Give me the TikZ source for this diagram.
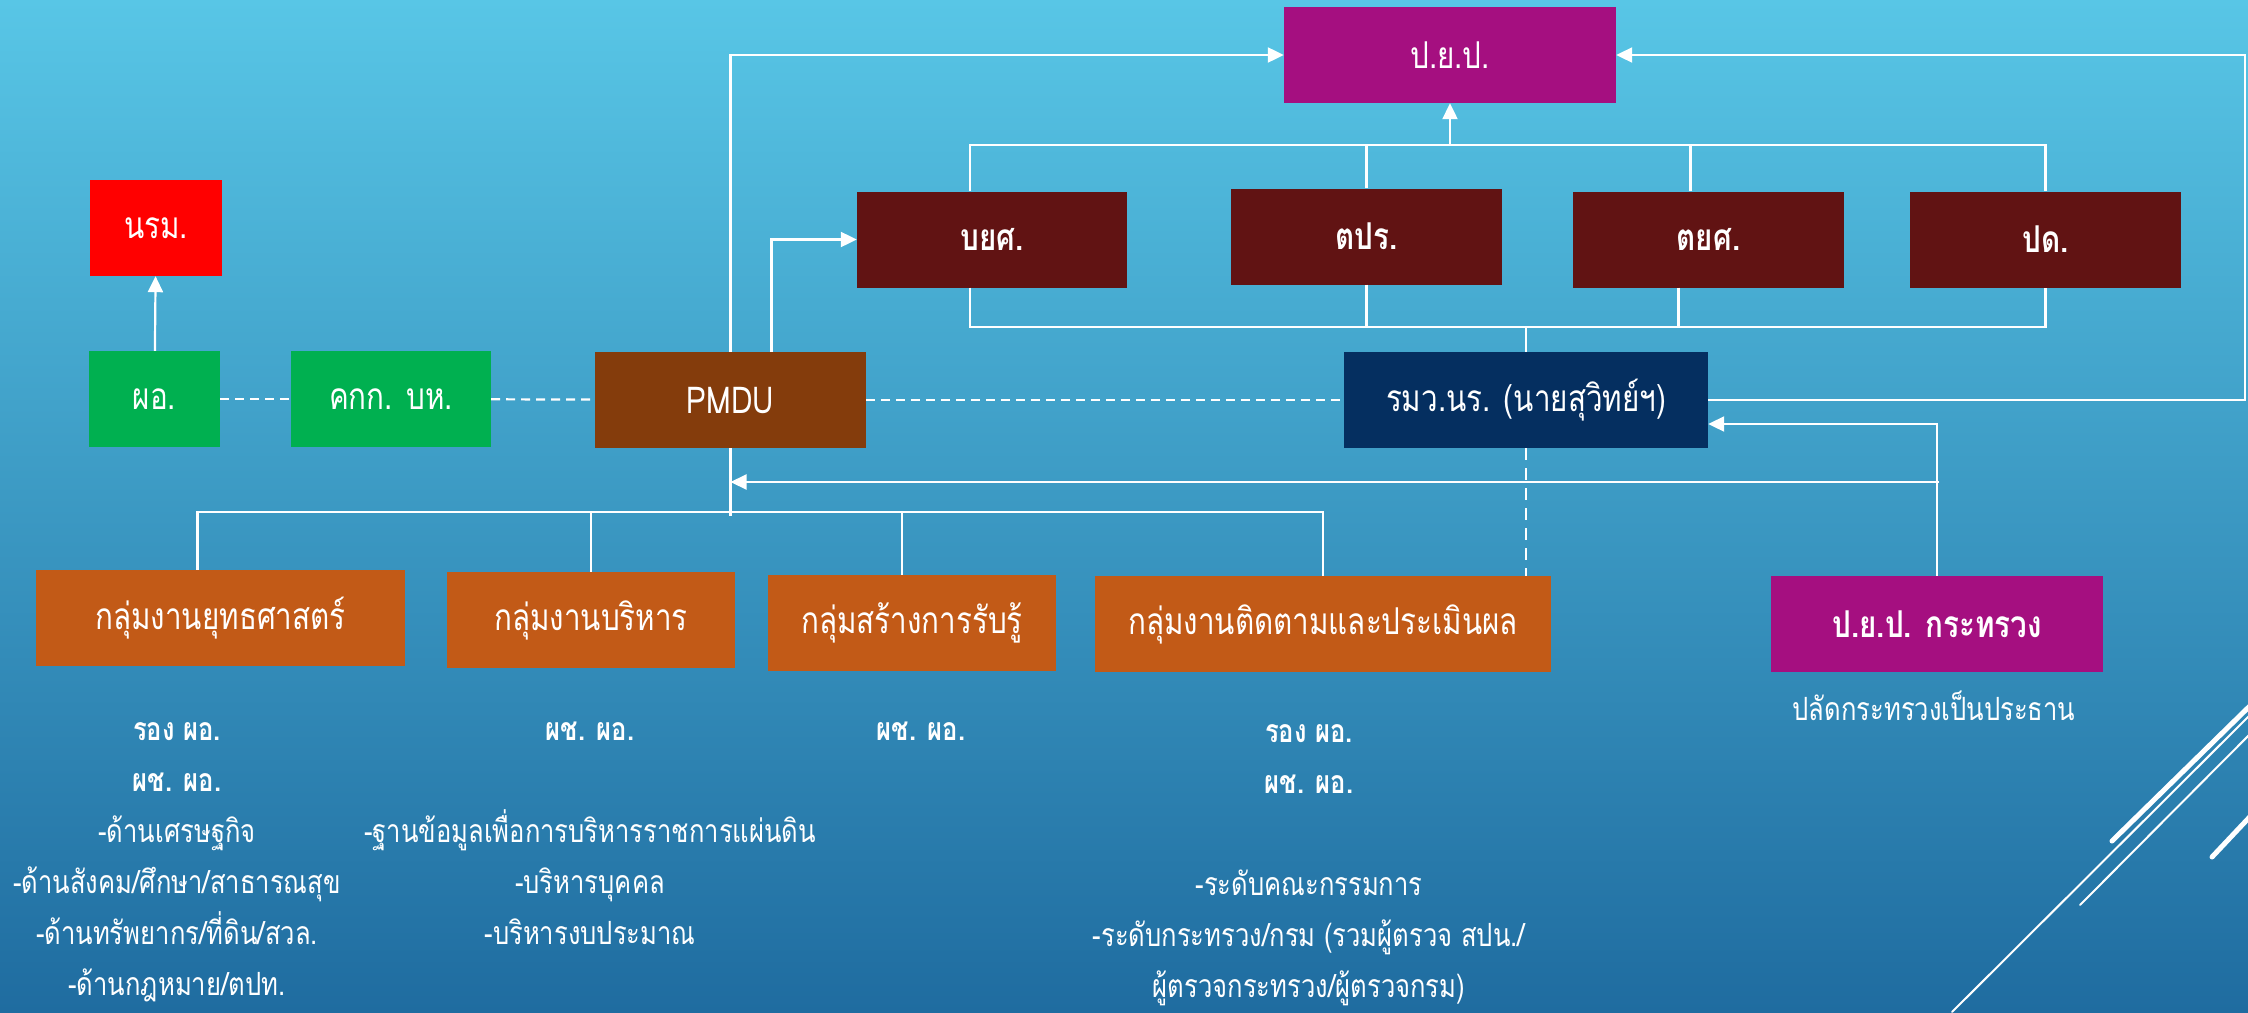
\documentclass[tikz,border=0pt]{standalone}
\usepackage{fontspec}
\newfontfamily\thaifont[Script=Thai, FakeStretch=0.8]{Loma}
\usetikzlibrary{arrows.meta}

\definecolor{bgtop}{HTML}{58C6E6}
\definecolor{bgbot}{HTML}{1F6CA0}
\definecolor{pyp}{HTML}{A50F80}
\definecolor{darkred}{HTML}{611313}
\definecolor{pmdubrown}{HTML}{843C0C}
\definecolor{grn}{HTML}{00B050}
\definecolor{navy}{HTML}{052F60}
\definecolor{orng}{HTML}{C25A17}

\tikzset{
    box/.style={minimum height=96pt, inner sep=0pt, text=white,
        font=\thaifont\fontsize{37}{44}\selectfont},
    boldbox/.style={box, font=\thaifont\bfseries\fontsize{37}{44}\selectfont},
    conn/.style={draw=white, line width=2.2pt},
    arr/.style={conn, -{Triangle[length=16pt,width=15pt]}},
    dash line/.style={draw=white, line width=2.2pt, dash pattern=on 9pt off 6pt},
    notes/.style={text=white, align=center, inner sep=0pt,
        font=\thaifont\fontsize{32}{51}\selectfont},
    deco/.style={draw=white, line cap=round},
}

\begin{document}
\begin{tikzpicture}[x=1pt,y=-1pt]
        \shade[top color=bgtop, bottom color=bgbot] (0,0) rectangle (2248,1012);
        \useasboundingbox (0,0) rectangle (2248,1012);

        % top level
        \node[box, fill=pyp, minimum width=332pt] (pyp) at (1450,55) {ป.ย.ป.};
        \node[boldbox, fill=darkred, minimum width=270pt] (bys) at (992,239.5) {บยศ.};
        \node[boldbox, fill=darkred, minimum width=271pt] (tpr) at (1366.5,236.5) {ตปร.};
        \node[boldbox, fill=darkred, minimum width=271pt] (tys) at (1708.5,239.5) {ตยศ.};
        \node[boldbox, fill=darkred, minimum width=271pt] (pd) at (2045.5,239.5) {ปด.};

        % middle row
        \node[box, fill=red, minimum width=132pt] (nrm) at (156,228) {นรม.};
        \node[box, fill=grn, minimum width=131pt] (po) at (154.5,399) {ผอ.};
        \node[box, fill=grn, minimum width=200pt] (kkk) at (391,399) {คกก. บห.};
        \node[box, fill=pmdubrown, minimum width=271pt] (pmdu) at (730.5,400) {PMDU};
        \node[box, fill=navy, minimum width=364pt] (rmw) at (1526,400) {รมว.นร. (นายสุวิทย์ฯ)};

        % groups
        \node[box, fill=orng, minimum width=369pt] (g1) at (220.5,618) {กลุ่มงานยุทธศาสตร์};
        \node[box, fill=orng, minimum width=288pt] (g2) at (591,620) {กลุ่มงานบริหาร};
        \node[box, fill=orng, minimum width=288pt] (g3) at (912,623) {กลุ่มสร้างการรับรู้};
        \node[box, fill=orng, minimum width=456pt] (g4) at (1323,624) {กลุ่มงานติดตามและประเมินผล};
        \node[boldbox, fill=pyp, minimum width=332pt] (pypk) at (1937,624) {ป.ย.ป. กระทรวง};

        \node[notes] (pypknote) at (1934,706) {ปลัดกระทรวงเป็นประธาน};
        \node[notes, anchor=north] (g1note) at (177,722) {\textbf{รอง ผอ.}\\ \textbf{ผช. ผอ.}\\
            -ด้านเศรษฐกิจ\\ -ด้านสังคม/ศึกษา/สาธารณสุข\\ -ด้านทรัพยากร/ที่ดิน/สวล.\\ -ด้านกฎหมาย/ตปท.};
        \node[notes, anchor=north] (g2note) at (590,722) {\textbf{ผช. ผอ.}\\ \mbox{}\\
            -ฐานข้อมูลเพื่อการบริหารราชการแผ่นดิน\\ -บริหารบุคคล\\ -บริหารงบประมาณ};
        \node[notes, anchor=north] (g3note) at (921,722) {\textbf{ผช. ผอ.}};
        \node[notes, anchor=north] (g4note) at (1309,724) {\textbf{รอง ผอ.}\\ \textbf{ผช. ผอ.}\\ \mbox{}\\
            -ระดับคณะกรรมการ\\ -ระดับกระทรวง/กรม (รวมผู้ตรวจ สปน./\\ ผู้ตรวจกระทรวง/ผู้ตรวจกรม)};

        \coordinate (topbar) at (1450,145);
        \coordinate (botbar) at (1526,327);
        \coordinate (midbar) at (1939,482);
        \coordinate (grpbar) at (730,512);
        \coordinate (rim) at (2245,0);

        % connectors
        \draw[arr] (po) -- (nrm);
        \draw[dash line] (po) -- (kkk);
        \draw[dash line] (kkk) -- (pmdu);
        \draw[dash line] (pmdu) -- (rmw);
        \draw[dash line, dash pattern=on 12pt off 8pt] (rmw.south) -- (rmw.south |- g4.north);

        \draw[arr] (pmdu.north) |- (pyp.west);
        \draw[arr] ([xshift=41pt]pmdu.north) |- (bys.west);

        \draw[conn] ([xshift=-22pt]bys.north) |- (topbar) -| (pd.north);
        \draw[conn] (tpr.north) -- (tpr.north |- topbar);
        \draw[conn] ([xshift=-18pt]tys.north) -- ([xshift=-18pt]tys.north |- topbar);
        \draw[arr] (topbar) -- (pyp.south);

        \draw[conn] ([xshift=-22pt]bys.south) |- (botbar) -| (pd.south);
        \draw[conn] (tpr.south) -- (tpr.south |- botbar);
        \draw[conn] ([xshift=-30pt]tys.south) -- ([xshift=-30pt]tys.south |- botbar);
        \draw[conn] (botbar) -- (rmw.north);

        \draw[arr] (rmw.east) -| (rim |- pyp.east) -- (pyp.east);
        \draw[arr] (pypk.north) |- ([yshift=-24pt]rmw.east);
        \draw[arr] (midbar) -- (pmdu.south |- midbar);
        \draw[conn] (pmdu.south) -- ++(0,68);

        \draw[conn] ([xshift=-23pt]g1.north) |- (grpbar) -| (g4.north);
        \draw[conn] (g2.north) -- (g2.north |- grpbar);
        \draw[conn] ([xshift=-10pt]g3.north) -- ([xshift=-10pt]g3.north |- grpbar);

        % corner lines
        \draw[deco, line width=5pt] (2112,841) -- (2260,696);
        \draw[deco, line width=2pt] (1952,1012) -- (2260,705);
        \draw[deco, line width=2pt] (2080,905) -- (2260,724);
        \draw[deco, line width=5pt] (2212,857) -- (2260,806);
\end{tikzpicture}
\end{document}
